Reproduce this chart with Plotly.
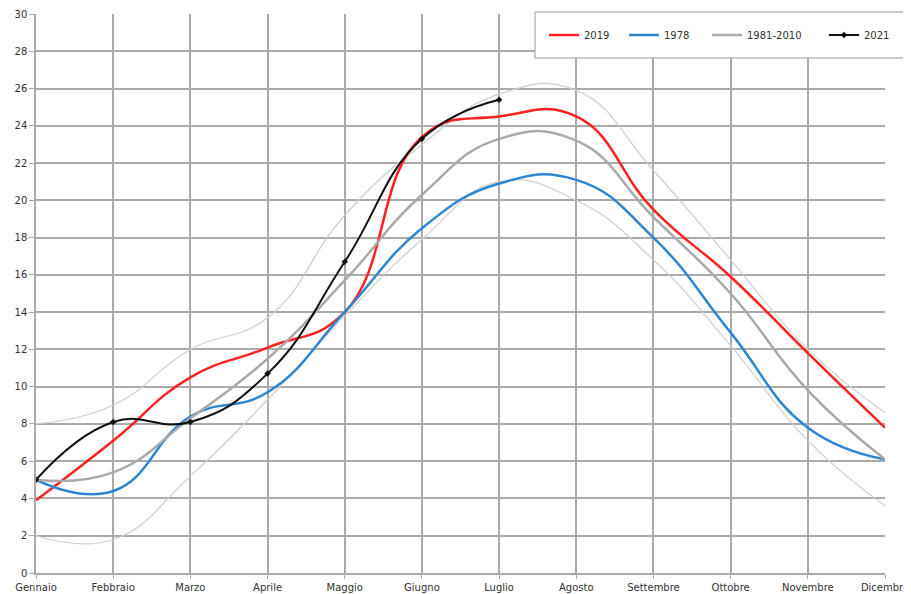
import plotly.graph_objects as go

months = ["Gennaio", "Febbraio", "Marzo", "Aprile", "Maggio", "Giugno",
          "Luglio", "Agosto", "Settembre", "Ottobre", "Novembre", "Dicembre"]
y_ticks = list(range(0, 31, 2))

t2019 = [3.9, 7.1, 10.5, 12.1, 14.0, 23.4, 24.5, 24.5, 19.5, 15.9, 11.8, 7.8]
t1978 = [5.0, 4.4, 8.4, 9.7, 14.0, 18.5, 20.9, 21.1, 18.0, 12.9, 7.8, 6.1]
t_mean = [5.0, 5.4, 8.3, 11.5, 15.7, 20.3, 23.3, 23.2, 19.1, 15.0, 9.8, 6.1]
t_upper = [8.0, 9.0, 12.0, 13.7, 19.2, 23.0, 25.7, 25.9, 21.6, 16.8, 12.0, 8.6]
t_lower = [2.0, 1.8, 5.2, 9.3, 13.8, 17.9, 21.0, 20.0, 16.8, 12.2, 7.1, 3.6]
t2021 = [5.0, 8.1, 8.1, 10.7, 16.7, 23.3, 25.4]

xs = list(range(len(months)))
SM = 1.3

# page offset of the figure (default body margin) and plot area in page pixels
OFF = 8
L, R, T, B = 36, 885, 14, 573
W, H = R - L, B - T
FIG_W, FIG_H = 911 - OFF, 594 - OFF


def px_x(p):
    return (p - L) / W


def px_y(p):
    return (B - p) / H


fig = go.Figure()
fig.add_trace(go.Scatter(x=xs, y=t_upper, mode="lines", showlegend=False,
                         line=dict(color="#cfcfcf", width=1.2, shape="spline", smoothing=SM)))
fig.add_trace(go.Scatter(x=xs, y=t_lower, mode="lines", showlegend=False,
                         line=dict(color="#cfcfcf", width=1.2, shape="spline", smoothing=SM)))
fig.add_trace(go.Scatter(x=xs, y=t2019, mode="lines", name="2019", legend="legend",
                         line=dict(color="#ff2020", width=2.5, shape="spline", smoothing=SM)))
fig.add_trace(go.Scatter(x=xs, y=t1978, mode="lines", name="1978", legend="legend2",
                         line=dict(color="#2f86d0", width=2.5, shape="spline", smoothing=SM)))
fig.add_trace(go.Scatter(x=xs, y=t_mean, mode="lines", name="1981-2010", legend="legend3",
                         line=dict(color="#a9a9a9", width=2.5, shape="spline", smoothing=SM)))
fig.add_trace(go.Scatter(x=xs[:len(t2021)], y=t2021, mode="lines+markers", name="2021",
                         legend="legend4",
                         line=dict(color="#111111", width=2, shape="spline", smoothing=SM),
                         marker=dict(symbol="diamond", size=5, color="#111111")))

# legend frame
fig.add_shape(type="rect", xref="paper", yref="paper",
              x0=px_x(535), x1=px_x(908), y0=px_y(58), y1=px_y(12),
              line=dict(color="#9a9a9a", width=1), fillcolor="white", layer="above")


def leg(xpix):
    return dict(orientation="h", x=px_x(xpix), xanchor="left",
                y=px_y(35), yanchor="middle", bgcolor="rgba(0,0,0,0)",
                borderwidth=0, font=dict(size=10, color="#333333"))


fig.update_layout(
    width=FIG_W, height=FIG_H,
    margin=dict(l=L - OFF, r=911 - R, t=T - OFF, b=594 - B, autoexpand=False),
    paper_bgcolor="white", plot_bgcolor="white",
    font=dict(family="DejaVu Sans", size=10, color="#333333"),
    legend=leg(544), legend2=leg(624), legend3=leg(707), legend4=leg(824),
    xaxis=dict(range=[0, 11], tickvals=xs, ticktext=months, showgrid=True,
               gridcolor="#aaaaaa", gridwidth=1.5, zeroline=False, automargin=False,
               showline=True, linecolor="#aaaaaa", linewidth=1.5,
               ticks="outside", ticklen=4, tickcolor="#aaaaaa",
               tickfont=dict(size=10, color="#333333")),
    yaxis=dict(range=[0, 30], tickvals=y_ticks, showgrid=True,
               gridcolor="#aaaaaa", gridwidth=1.5, zeroline=False, automargin=False,
               showline=True, linecolor="#aaaaaa", linewidth=1.5,
               ticks="outside", ticklen=5, tickcolor="#aaaaaa",
               tickfont=dict(size=10, color="#333333")),
)

fig.write_html("out.html")
